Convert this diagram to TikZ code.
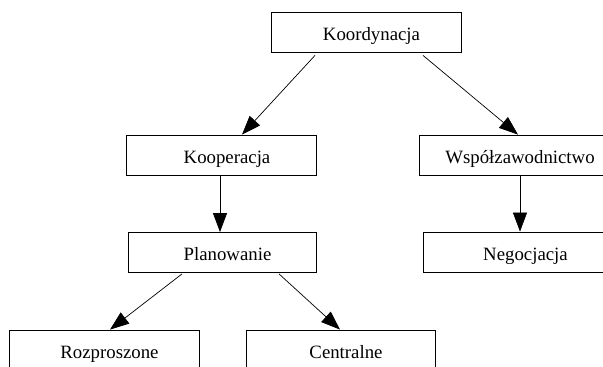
\documentclass[tikz,border=0pt]{standalone}
\usepackage{fontspec}
\setmainfont{Liberation Serif}
\usetikzlibrary{arrows.meta}
\tikzset{
  plainbox/.style={draw=black,line width=0.8pt,minimum height=40pt,inner sep=0pt,
    text height=18pt,text depth=1.4pt,font=\fontsize{18.8}{22}\selectfont},
  box/.style={plainbox,execute at begin node=\hspace*{11pt}},
  edge/.style={line width=0.7pt,-{Triangle[length=19pt,width=14pt]}}
}
\begin{document}
\begin{tikzpicture}[x=1pt,y=1pt]
   \useasboundingbox (0,0) rectangle (603,-367);
   \clip (0,0) rectangle (603,-367);
   \fill[white] (0,0) rectangle (603,-367);
   % boxes
   \node[box,minimum width=190pt] (koord) at (366,-32) {Koordynacja};
   \node[box,minimum width=190pt] (koop)  at (221.5,-155) {Kooperacja};
   \node[plainbox,minimum width=202pt] (wspol) at (520,-155) {Współzawodnictwo};
   \node[box,minimum width=188pt] (plan)  at (222,-252.5) {Planowanie};
   \node[box,minimum width=194pt] (negoc) at (520,-252) {Negocjacja};
   \node[box,minimum width=190pt] (rozpr) at (104,-350) {Rozproszone};
   \node[box,minimum width=189pt] (centr) at (340.5,-350) {Centralne};
   % edges
   \draw[edge] ([xshift=-51pt,yshift=-3pt]koord.south) -- ([xshift=20.5pt]koop.north);
   \draw[edge] ([xshift=57pt,yshift=-3pt]koord.south) -- ([xshift=-2pt]wspol.north);
   \draw[edge] ([xshift=-1.5pt]koop.south) -- ([xshift=-2pt]plan.north);
   \draw[edge] (wspol.south) -- (negoc.north);
   \draw[edge] ([xshift=-40pt,yshift=-1pt]plan.south) -- ([xshift=6pt]rozpr.north);
   \draw[edge] ([xshift=57pt,yshift=-1pt]plan.south) -- ([xshift=-0.5pt]centr.north);
\end{tikzpicture}
\end{document}
